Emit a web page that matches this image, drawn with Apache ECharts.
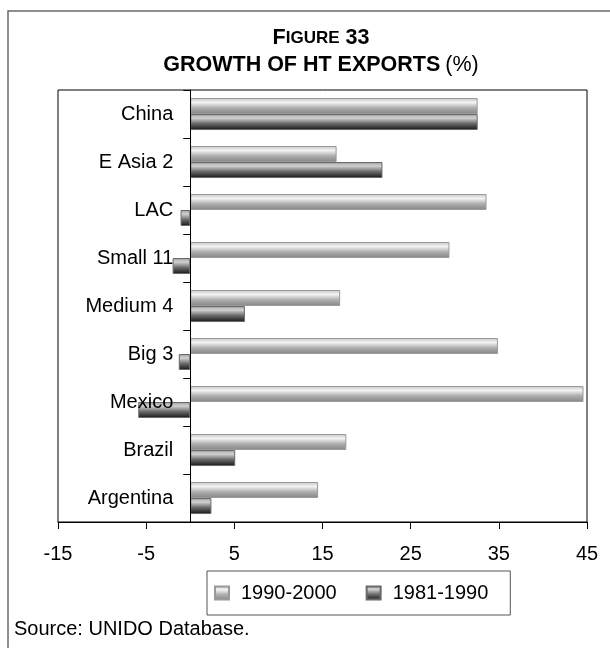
<!DOCTYPE html>
<html>
<head>
<meta charset="utf-8">
<script src="https://cdn.jsdelivr.net/npm/echarts@6/dist/echarts.min.js"></script>
<style>
  html, body { margin: 0; padding: 0; background: #fff; }
  #chart { width: 610px; height: 648px; }
</style>
</head>
<body>
<div id="chart"></div>
<script>
// Growth of high-tech exports by country group, % per year
const categories = ['China', 'E Asia 2', 'LAC', 'Small 11', 'Medium 4', 'Big 3', 'Mexico', 'Brazil', 'Argentina'];
const growth1990to2000 = [32.6, 16.6, 33.6, 29.4, 17.0, 34.9, 44.6, 17.7, 14.5];
const growth1981to1990 = [32.6, 21.8, -1.1, -2.0, 6.2, -1.3, -5.9, 5.1, 2.4];
const seriesNames = ['1990-2000', '1981-1990'];
const xMin = -15, xMax = 45, xStep = 10;

const FONT = "'Liberation Sans', Arial, sans-serif";
const LABEL_SIZE = 20;

// plot area
const gridLeft = 58, gridRight = 23, gridTop = 90, gridBottom = 126;
const plotWidth = 610 - gridLeft - gridRight;
// the category axis sits on the zero line of the value axis
const zeroShift = (0 - xMin) / (xMax - xMin) * plotWidth;

// cylinder-like shading for the two bar series
const lightFill = new echarts.graphic.LinearGradient(0, 0, 0, 1, [
  { offset: 0, color: '#c4c4c4' },
  { offset: 0.28, color: '#f4f4f4' },
  { offset: 0.6, color: '#b0b0b0' },
  { offset: 1, color: '#858585' }
]);
const darkFill = new echarts.graphic.LinearGradient(0, 0, 0, 1, [
  { offset: 0, color: '#9a9a9a' },
  { offset: 0.25, color: '#d2d2d2' },
  { offset: 0.6, color: '#6a6a6a' },
  { offset: 1, color: '#151515' }
]);

const chart = echarts.init(document.getElementById('chart'), null, { renderer: 'canvas' });

chart.setOption({
  animation: false,
  backgroundColor: '#ffffff',
  textStyle: { fontFamily: FONT },
  title: {
    left: 316,
    top: 20,
    textAlign: 'center',
    text: '{big|F}{small|IGURE}{big| 33}\n{big|GROWTH OF HT EXPORTS} {norm|(%)}',
    textStyle: {
      rich: {
        big: { fontFamily: FONT, fontSize: 21.5, fontWeight: 'bold', color: '#000', lineHeight: 27 },
        small: { fontFamily: FONT, fontSize: 17, fontWeight: 'bold', color: '#000', lineHeight: 27 },
        norm: { fontFamily: FONT, fontSize: 21.5, fontWeight: 'normal', color: '#000', lineHeight: 27 }
      }
    }
  },
  graphic: [
    {
      type: 'rect',
      silent: true,
      z: -1,
      shape: { x: 8, y: 11, width: 700, height: 700 },
      style: { fill: 'none', stroke: '#6a6a6a', lineWidth: 1.5 }
    },
    {
      type: 'text',
      left: 14,
      top: 619,
      style: { text: 'Source: UNIDO Database.', font: LABEL_SIZE + 'px ' + FONT, fill: '#000' }
    }
  ],
  legend: {
    data: seriesNames,
    left: 207,
    top: 571,
    orient: 'horizontal',
    padding: [12, 22, 12, 7],
    itemGap: 29,
    itemWidth: 14,
    itemHeight: 13,
    icon: 'rect',
    borderColor: '#555',
    borderWidth: 1,
    textStyle: { fontFamily: FONT, fontSize: LABEL_SIZE, color: '#000', padding: [0, 0, 0, 7] }
  },
  grid: {
    show: true,
    left: gridLeft,
    right: gridRight,
    top: gridTop,
    bottom: gridBottom,
    containLabel: false,
    outerBoundsMode: 'none',
    borderColor: '#000',
    borderWidth: 1,
    backgroundColor: 'transparent'
  },
  xAxis: {
    type: 'value',
    min: xMin,
    max: xMax,
    interval: xStep,
    position: 'bottom',
    axisLine: { show: true, lineStyle: { color: '#000', width: 1 } },
    axisTick: { show: true, length: 7, lineStyle: { color: '#000', width: 1 } },
    axisLabel: { fontFamily: FONT, fontSize: LABEL_SIZE, color: '#000', margin: 22 },
    splitLine: { show: false }
  },
  yAxis: {
    type: 'category',
    data: categories,
    inverse: true,
    position: 'left',
    offset: -zeroShift,
    z: 10,
    axisLine: { show: true, onZero: false, lineStyle: { color: '#000', width: 1 } },
    axisTick: { show: true, length: 7, lineStyle: { color: '#000', width: 1 } },
    axisLabel: { fontFamily: FONT, fontSize: LABEL_SIZE, color: '#000', margin: 17 },
    splitLine: { show: false }
  },
  series: [
    {
      name: seriesNames[0],
      type: 'bar',
      data: growth1990to2000,
      barWidth: 16,
      barGap: '0%',
      itemStyle: { color: lightFill, borderColor: '#9a9a9a', borderWidth: 1 }
    },
    {
      name: seriesNames[1],
      type: 'bar',
      data: growth1981to1990,
      barWidth: 16,
      barGap: '0%',
      itemStyle: { color: darkFill, borderColor: '#6a6a6a', borderWidth: 1 }
    }
  ]
});
</script>
</body>
</html>
